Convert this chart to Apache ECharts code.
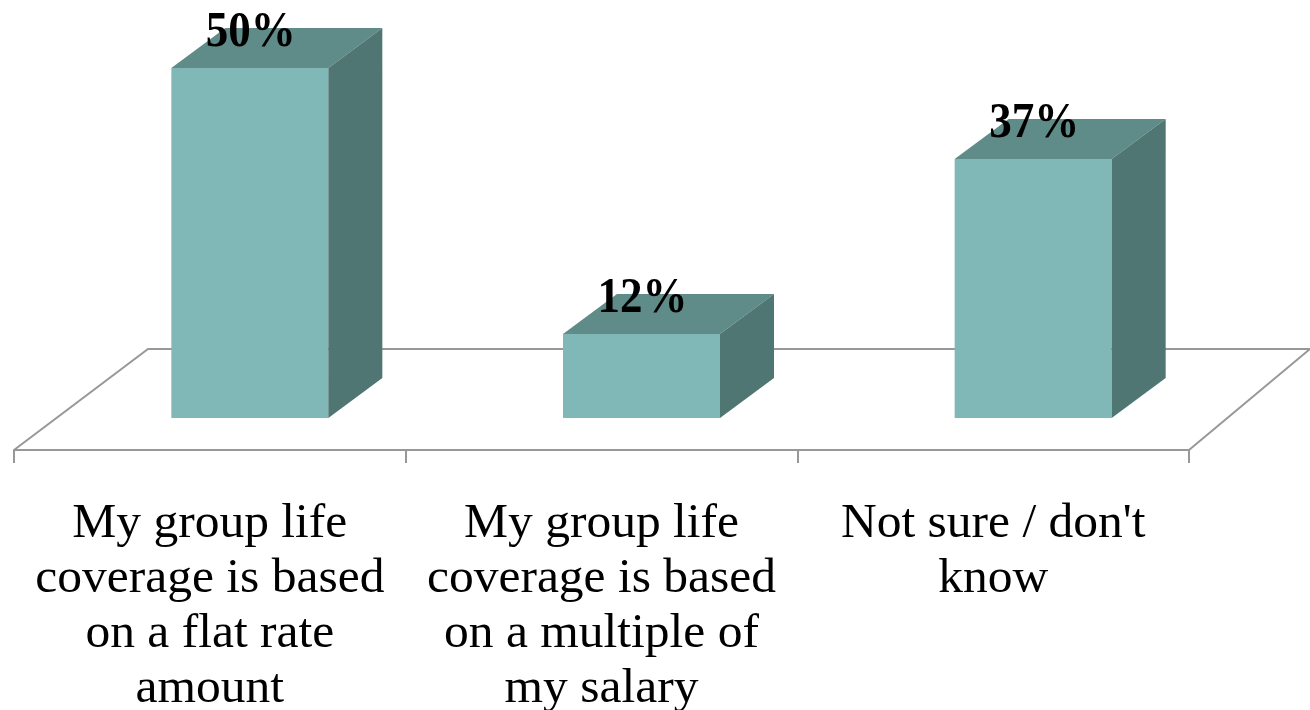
<!DOCTYPE html>
<html>
<head>
<meta charset="utf-8">
<title>Group life coverage</title>
<script src="https://cdn.jsdelivr.net/npm/echarts@6/dist/echarts.min.js"></script>
<style>
html, body { margin: 0; padding: 0; background: #fff; overflow: hidden; }
#chart { width: 1310px; height: 710px; }
</style>
</head>
<body>
<div id="chart"></div>
<script>
// data
var categories = [
	"My group life\ncoverage is based\non a flat rate\namount",
	"My group life\ncoverage is based\non a multiple of\nmy salary",
	"Not sure / don't\nknow"
];
var percentValues = [50, 12, 37];

// look of the fake 3d bars
var barWidth = 157;
var barShift = 40;		// bars sit right of the band centre
var depthX = 54;
var depthY = 40;
var floorDrop = 32;		// axis line is below the zero line
var floorBack = 69;		// back edge of floor above the zero line
var floorSkew = 134;
var lineColor = '#989898';
var fontName = '"Liberation Serif", serif';

var myChart = echarts.init(document.getElementById('chart'));

// floor outline behind the bars
var renderFloor = function(params, api) {
	var r = params.coordSys;
	var front = r.y + r.height + floorDrop;
	var back = r.y + r.height - floorBack;
	return {
		type: 'polyline',
		silent: true,
		shape: {
			points: [
				[r.x, front],
				[r.x + floorSkew, back],
				[r.x + r.width + 121, back],
				[r.x + r.width, front]
			]
		},
		style: { fill: 'none', stroke: lineColor, lineWidth: 2 }
	};
};

var renderBar = function(params, api) {
	var base = api.coord([api.value(0), 0]);
	var top = api.coord([api.value(0), api.value(1)]);
	var l = base[0] + barShift - barWidth / 2;
	var r = l + barWidth;
	var t = top[1];
	var b = base[1];
	return {
		type: 'group',
		children: [
			{
				type: 'rect',
				shape: { x: l, y: t, width: barWidth, height: b - t },
				style: { fill: '#7fb8b6' }
			},
			{
				type: 'polygon',
				shape: { points: [[l, t], [l + depthX, t - depthY], [r + depthX, t - depthY], [r, t]] },
				style: { fill: '#5f8b89' }
			},
			{
				type: 'polygon',
				shape: { points: [[r, t], [r + depthX, t - depthY], [r + depthX, b - depthY], [r, b]] },
				style: { fill: '#507674' }
			},
			{
				type: 'text',
				x: l + barWidth / 2 + 1,
				y: t - 35,
				scaleX: 0.9,
				style: {
					text: api.value(1) + '%',
					x: 0,
					y: 0,
					align: 'center',
					verticalAlign: 'middle',
					fill: '#000',
					font: 'bold 50px ' + fontName
				}
			}
		]
	};
};

var option = {
	animation: false,
	backgroundColor: '#fff',
	grid: { left: 14, right: 121, top: 68, bottom: 292, containLabel: false, outerBoundsMode: 'none' },
	xAxis: {
		type: 'category',
		data: categories,
		offset: floorDrop,
		axisLine: { onZero: false, lineStyle: { color: lineColor, width: 2 } },
		axisTick: { show: true, length: 13, lineStyle: { color: lineColor, width: 2 } },
		axisLabel: {
			interval: 0,
			margin: 46,
			color: '#000',
			fontFamily: fontName,
			fontSize: 49.5,
			lineHeight: 55,
			verticalAlign: 'top'
		}
	},
	yAxis: { type: 'value', min: 0, max: 50, show: false },
	series: [
		{
			type: 'custom',
			renderItem: renderFloor,
			data: [[0, 0]],
			clip: false,
			z: 1
		},
		{
			type: 'custom',
			renderItem: renderBar,
			data: percentValues.map(function(v, i) { return [i, v]; }),
			encode: { x: 0, y: 1 },
			clip: false,
			z: 2
		}
	]
};
myChart.setOption(option);
</script>
</body>
</html>
